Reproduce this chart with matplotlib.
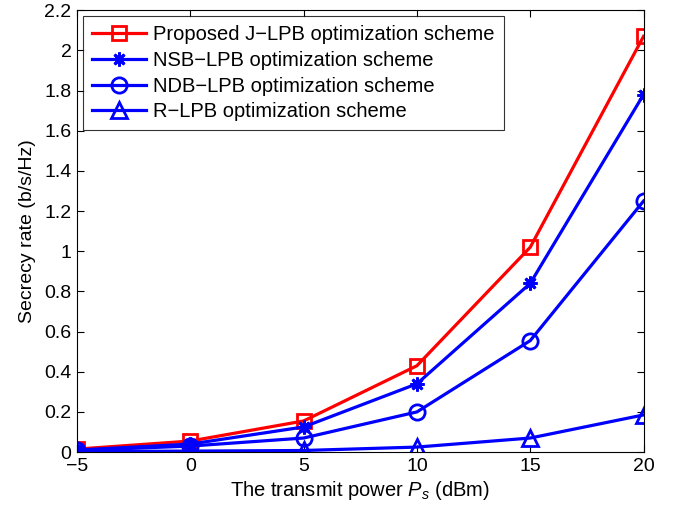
import matplotlib
matplotlib.use("Agg")
import matplotlib.pyplot as plt

plt.rcParams['font.family'] = ['Liberation Sans', 'DejaVu Sans']
plt.rcParams['mathtext.fontset'] = 'custom'
plt.rcParams['mathtext.it'] = 'Liberation Sans:italic'
plt.rcParams['mathtext.rm'] = 'Liberation Sans'

power = [-5, 0, 5, 10, 15, 20]
proposed = [0.015, 0.055, 0.155, 0.43, 1.02, 2.07]
nsb = [0.01, 0.04, 0.125, 0.34, 0.84, 1.78]
ndb = [0.008, 0.03, 0.07, 0.20, 0.555, 1.25]
rlpb = [0.003, 0.005, 0.008, 0.025, 0.07, 0.185]

labels = ['Proposed J\u2212LPB optimization scheme',
          'NSB\u2212LPB optimization scheme',
          'NDB\u2212LPB optimization scheme',
          'R\u2212LPB optimization scheme']

fig = plt.figure(figsize=(6.81, 5.12), dpi=100)
ax = fig.add_axes([0.113, 0.117, 0.832, 0.863])

ax.plot(power, proposed, color='red', marker='s', lw=2.3, ms=10, mfc='none', mew=2, label=labels[0])
ax.plot(power, nsb, color='blue', marker=(8, 2, 0), lw=2.3, ms=10, mew=2, label=labels[1])
ax.plot(power, ndb, color='blue', marker='o', lw=2.3, ms=11, mfc='none', mew=2, label=labels[2])
ax.plot(power, rlpb, color='blue', marker='^', lw=2.3, ms=12, mfc='none', mew=2, label=labels[3])

ax.set_xlim(-5, 20)
ax.set_ylim(0, 2.2)
ax.set_xticks(power)
ax.set_xticklabels(['\u22125', '0', '5', '10', '15', '20'])
yt = [0, 0.2, 0.4, 0.6, 0.8, 1, 1.2, 1.4, 1.6, 1.8, 2, 2.2]
ax.set_yticks(yt)
ax.set_yticklabels(['0', '0.2', '0.4', '0.6', '0.8', '1', '1.2', '1.4', '1.6', '1.8', '2', '2.2'])
ax.tick_params(direction='in', top=True, right=True, labelsize=14, length=5, pad=4)
for s in ax.spines.values():
    s.set_linewidth(0.8)

ax.set_xlabel('The transmit power $P_s$ (dBm)', fontsize=14.5, labelpad=3)
ax.set_ylabel('Secrecy rate (b/s/Hz)', fontsize=14, labelpad=6)

leg = ax.legend(loc='upper left', fontsize=14.5, frameon=True, fancybox=False,
                edgecolor='black', handlelength=2.7, borderaxespad=0.3,
                labelspacing=0.33, handletextpad=0.35, borderpad=0.45)
leg.get_frame().set_linewidth(0.8)

fig.savefig('out.png', dpi=100)
